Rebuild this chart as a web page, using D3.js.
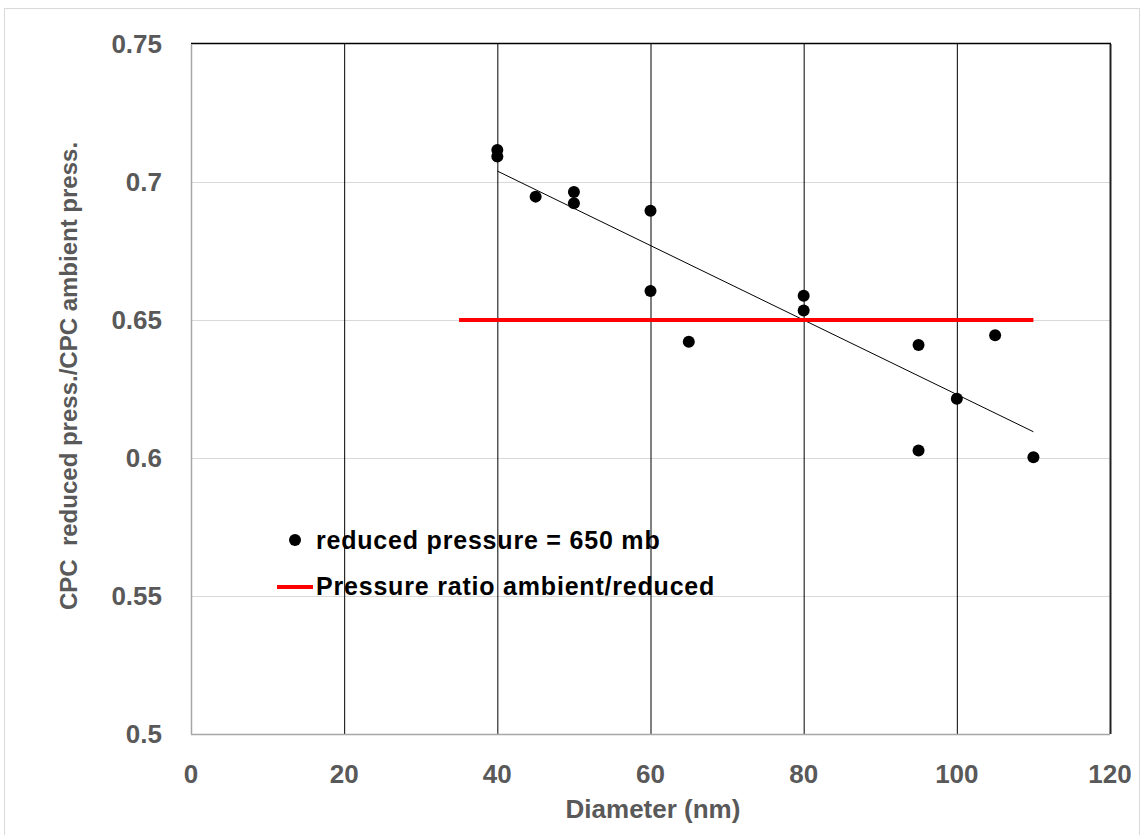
<!DOCTYPE html>
<html>
<head>
<meta charset="utf-8">
<script src="https://cdn.jsdelivr.net/npm/d3@7"></script>
<style>
  body { margin: 0; background: #fff; }
  text { font-family: "Liberation Sans", Arial, sans-serif; font-weight: bold; }
</style>
</head>
<body>
<div id="chart"></div>
<script>
var W = 1143, H = 835;

// measured points (diameter nm, ratio)
var diameters = [40, 40, 45, 50, 50, 60, 60, 65, 80, 80, 95, 95, 100, 105, 110];
var ratios = [0.7116, 0.7092, 0.6947, 0.6964, 0.6923, 0.6896, 0.6605, 0.6421,
    0.6588, 0.6534, 0.6409, 0.6027, 0.6215, 0.6445, 0.6003];

// pressure ratio line
var ratioLineX = [35, 110];
var ratioLineY = [0.65, 0.65];

var xTicks = [0, 20, 40, 60, 80, 100, 120];
var yTicks = [0.5, 0.55, 0.6, 0.65, 0.7, 0.75];

var legendLabels = ["reduced pressure = 650 mb", "Pressure ratio ambient/reduced"];

var pLeft = 191, pRight = 1110, pTop = 44, pBottom = 734;

var x = d3.scaleLinear().domain([0, 120]).range([pLeft, pRight]);
var y = d3.scaleLinear().domain([0.5, 0.75]).range([pBottom, pTop]);

var svg = d3.select("#chart")
    .append("svg")
    .attr("width", W)
    .attr("height", H);

// chart border
svg.append("rect")
    .attr("x", 4.5).attr("y", 8.5)
    .attr("width", W - 8).attr("height", H)
    .attr("fill", "none")
    .attr("stroke", "#d9d9d9");

// horizontal gridlines
svg.append("g")
    .selectAll("line")
    .data(yTicks.slice(1, -1))
    .enter()
    .append("line")
    .attr("x1", pLeft).attr("x2", pRight)
    .attr("y1", function (d) { return y(d) + 0.5; })
    .attr("y2", function (d) { return y(d) + 0.5; })
    .attr("stroke", "#d9d9d9")
    .attr("stroke-width", 1);

// vertical gridlines (black)
svg.append("g")
    .selectAll("line")
    .data(xTicks.slice(1))
    .enter()
    .append("line")
    .attr("x1", function (d) { return x(d) + 0.5; })
    .attr("x2", function (d) { return x(d) + 0.5; })
    .attr("y1", pTop).attr("y2", pBottom)
    .attr("stroke", function (d, i) { return i == xTicks.length - 2 ? "#222" : "#000"; })
    .attr("stroke-width", function (d, i) { return i == xTicks.length - 2 ? 2 : 1; });

// top border line
svg.append("line")
    .attr("x1", pLeft).attr("x2", pRight + 1)
    .attr("y1", y(0.75) - 0.5).attr("y2", y(0.75) - 0.5)
    .attr("stroke", "#000").attr("stroke-width", 1.5);

// axes lines (gray)
svg.append("line")
    .attr("x1", pLeft).attr("x2", pRight)
    .attr("y1", pBottom + 0.5).attr("y2", pBottom + 0.5)
    .attr("stroke", "#a6a6a6").attr("stroke-width", 1.5);
svg.append("line")
    .attr("x1", pLeft + 0.5).attr("x2", pLeft + 0.5)
    .attr("y1", pTop).attr("y2", pBottom)
    .attr("stroke", "#a6a6a6").attr("stroke-width", 1.5);

// tick labels
svg.append("g")
    .selectAll("text")
    .data(yTicks)
    .enter()
    .append("text")
    .attr("x", 162)
    .attr("y", function (d) { return y(d) + 9; })
    .attr("text-anchor", "end")
    .attr("font-size", 26)
    .attr("fill", "#595959")
    .text(function (d) { return d3.format("")(d); });

svg.append("g")
    .selectAll("text")
    .data(xTicks)
    .enter()
    .append("text")
    .attr("x", function (d) { return x(d); })
    .attr("y", 783)
    .attr("text-anchor", "middle")
    .attr("font-size", 26)
    .attr("fill", "#595959")
    .text(function (d) { return d; });

// axis titles
svg.append("text")
    .attr("x", 653).attr("y", 818)
    .attr("text-anchor", "middle")
    .attr("font-size", 26)
    .attr("fill", "#595959")
    .text("Diameter (nm)");

svg.append("text")
    .attr("transform", "translate(77,376) rotate(-90)")
    .attr("text-anchor", "middle")
    .attr("font-size", 24)
    .attr("fill", "#595959")
    .text("CPC\u00a0 reduced press./CPC ambient press.");

// regression line (least squares)
var mx = d3.mean(diameters), my = d3.mean(ratios);
var sxy = d3.sum(diameters, function (d, i) { return (d - mx) * (ratios[i] - my); });
var sxx = d3.sum(diameters, function (d) { return (d - mx) * (d - mx); });
var slope = sxy / sxx, icpt = my - slope * mx;
var x0 = d3.min(diameters), x1 = d3.max(diameters);

svg.append("line")
    .attr("x1", x(x0)).attr("y1", y(icpt + slope * x0))
    .attr("x2", x(x1)).attr("y2", y(icpt + slope * x1))
    .attr("stroke", "#000").attr("stroke-width", 1);

// red pressure ratio line
var line = d3.line()
    .x(function (d, i) { return x(d); })
    .y(function (d, i) { return y(ratioLineY[i]); });
svg.append("path")
    .attr("d", line(ratioLineX))
    .attr("fill", "none")
    .attr("stroke", "#ff0000")
    .attr("stroke-width", 4);

// points
svg.append("g")
    .selectAll("circle")
    .data(diameters)
    .enter()
    .append("circle")
    .attr("cx", function (d) { return x(d); })
    .attr("cy", function (d, i) { return y(ratios[i]); })
    .attr("r", 6)
    .attr("fill", "#000");

// legend
var lg = svg.append("g");
lg.append("circle").attr("cx", 295).attr("cy", 540).attr("r", 6).attr("fill", "#000");
lg.append("line").attr("x1", 277).attr("x2", 313).attr("y1", 587).attr("y2", 587)
    .attr("stroke", "#ff0000").attr("stroke-width", 4);
lg.selectAll("text")
    .data(legendLabels)
    .enter()
    .append("text")
    .attr("x", 316)
    .attr("y", function (d, i) { return 549 + i * 46; })
    .attr("font-size", 25)
    .attr("letter-spacing", 0.8)
    .attr("fill", "#000")
    .text(function (d) { return d; });
</script>
</body>
</html>
